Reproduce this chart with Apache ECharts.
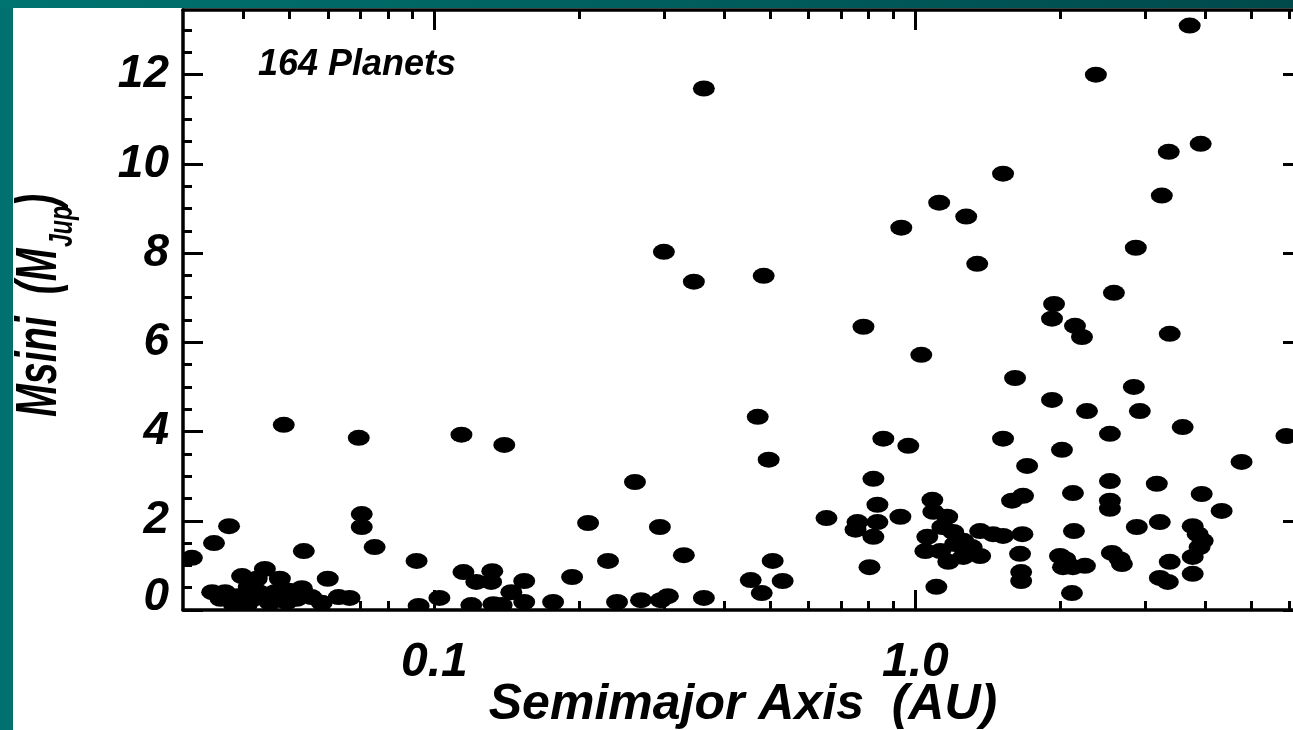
<!DOCTYPE html>
<html>
<head>
<meta charset="utf-8">
<script src="https://cdn.jsdelivr.net/npm/echarts@6/dist/echarts.min.js"></script>
<style>
  html, body { margin: 0; padding: 0; background: #00716e; }
  #chart { width: 1293px; height: 730px; }
</style>
</head>
<body>
<div id="chart"></div>
<script>
// semimajor axis (AU) and minimum mass (M_Jup), one entry per planet
const semimajorAxis = [
  0.0313, 0.0348, 0.0374, 0.0345, 0.0367, 0.0383, 0.0398, 0.0411, 0.0407, 0.0431,
  0.0444, 0.0466, 0.0477, 0.0498, 0.0517, 0.0535, 0.0530, 0.0583, 0.0600, 0.0632,
  0.0666, 0.0486, 0.0696, 0.0706, 0.0706, 0.0751, 0.0918, 0.0927, 0.1024, 0.1138,
  0.1149, 0.1222, 0.1193, 0.1319, 0.1312, 0.1326, 0.1397, 0.1445, 0.1537, 0.1537,
  0.1765, 0.1933, 0.2087, 0.2296, 0.2397, 0.2612, 0.2689, 0.2943, 0.2957, 0.3058,
  0.300, 0.3301, 0.3463, 0.3633, 0.3633, 0.4547, 0.4702, 0.4793, 0.4838, 0.4955,
  0.5051, 0.5298, 0.6535, 0.7801, 0.8181, 0.8340, 0.758, 0.751, 0.834, 0.818,
  0.803, 0.858, 0.931, 0.935, 0.967, 1.029, 1.085, 1.090, 1.165, 1.138,
  1.199, 1.059, 1.258, 1.049, 1.127, 1.171, 1.258, 1.364, 1.364, 1.451,
  1.522, 1.106, 1.121, 1.276, 1.345, 1.522, 1.522, 1.612, 1.589, 1.675,
  1.670, 1.651, 1.66, 1.66, 1.708, 1.924, 1.943, 1.924, 2.018, 2.127,
  2.137, 1.999, 2.028, 2.127, 2.253, 2.117, 2.148, 2.221, 2.275, 2.374,
  2.539, 2.539, 2.539, 2.539, 2.563, 2.689, 2.588, 2.847, 2.874, 2.888,
  2.930, 3.178, 3.224, 3.255, 3.365, 3.381, 3.224, 3.35, 3.381, 3.597,
  3.720, 3.774, 3.865, 3.959, 3.774, 3.774, 3.921, 3.94, 4.335, 4.769,
  5.912, 0.0389, 0.0420, 0.0455, 0.0493, 0.0427, 0.0555, 1.21, 1.31, 0.138,
  2.05, 2.66, 0.0359, 3.90
];
const msini = [
  1.17, 1.50, 1.88, 0.40, 0.40, 0.11, 0.76, 0.52, 0.11, 0.40,
  0.92, 0.40, 0.70, 0.43, 0.25, 1.32, 0.49, 0.16, 0.70, 0.29,
  0.27, 4.15, 3.86, 2.15, 1.86, 1.41, 1.10, 0.09, 0.27, 3.93,
  0.85, 0.63, 0.11, 0.87, 0.63, 0.13, 3.70, 0.40, 0.65, 0.18,
  0.18, 0.74, 1.95, 1.10, 0.18, 2.87, 0.22, 1.86, 0.22, 0.31,
  8.03, 1.23, 7.36, 11.69, 0.27, 0.67, 4.33, 0.38, 7.49, 3.37,
  1.10, 0.65, 2.06, 6.35, 2.94, 2.36, 1.97, 1.80, 1.97, 1.64,
  0.96, 3.84, 2.09, 8.57, 3.68, 5.72, 2.47, 2.20, 2.09, 1.86,
  1.75, 1.64, 1.55, 1.32, 1.32, 1.08, 1.19, 1.21, 1.77, 1.70,
  1.66, 0.52, 9.13, 8.82, 7.76, 9.78, 3.84, 5.20, 2.45, 2.56,
  1.70, 1.26, 0.85, 0.65, 3.23, 4.71, 6.86, 6.53, 3.59, 2.62,
  1.77, 1.21, 0.96, 0.96, 0.99, 0.38, 6.37, 6.12, 4.46, 12.0,
  3.95, 2.89, 2.45, 2.27, 1.28, 1.03, 7.11, 5.00, 8.12, 1.86,
  4.46, 2.83, 1.97, 9.29, 10.27, 6.19, 0.72, 0.63, 1.08, 4.10,
  13.10, 1.88, 1.70, 1.55, 1.19, 0.81, 10.45, 2.60, 2.22, 3.32,
  3.90, 0.31, 0.25, 0.16, 0.18, 0.70, 0.29, 1.48, 1.41, 0.11,
  1.14, 1.14, 0.25, 1.41
];

const xMajorTicks = [0.1, 1];
const xMajorLabels = ['0.1', '1.0'];
const xMinorTicks = [0.04, 0.05, 0.06, 0.07, 0.08, 0.09, 0.2, 0.3, 0.4, 0.5, 0.6, 0.7, 0.8, 0.9, 2, 3, 4, 5, 6];
const yMajorTicks = [0, 2, 4, 6, 8, 10, 12];
const yMinorTicks = [0.5, 1, 1.5, 2.5, 3, 3.5, 4.5, 5, 5.5, 6.5, 7, 7.5, 8.5, 9, 9.5, 10.5, 11, 11.5, 12.5, 13];

const FONT = '"Liberation Sans", Arial, Helvetica, sans-serif';
const chart = echarts.init(document.getElementById('chart'), null, { renderer: 'canvas' });

// the log axis may hand back either the raw value or its log10
function xLabelFor(v) {
  const k = xMajorTicks.findIndex(t => Math.abs(t - v) < 1e-9 || Math.abs(Math.log10(t) - v) < 1e-9);
  return k < 0 ? '' : xMajorLabels[k];
}

function xAxisDef(pos, ticks, len, withLine, withLabels) {
  return {
    type: 'log', logBase: 10, min: 0.03, max: 6.4, position: pos, z: 10,
    axisLine: { show: withLine, onZero: false, lineStyle: { color: '#000', width: 3.5 } },
    axisTick: { show: true, inside: true, length: len, customValues: ticks, lineStyle: { color: '#000', width: 3 } },
    axisLabel: withLabels ? {
      show: true, margin: 29,
      formatter: v => xLabelFor(v),
      fontSize: 48, fontWeight: 'bold', fontStyle: 'italic', fontFamily: FONT, color: '#000'
    } : { show: false },
    splitLine: { show: false }, minorTick: { show: false }, minorSplitLine: { show: false }
  };
}
function yAxisDef(pos, ticks, len, withLine, withLabels) {
  return {
    type: 'value', min: 0, max: 13.45, position: pos, z: 10,
    axisLine: { show: withLine, onZero: false, lineStyle: { color: '#000', width: 3.5 } },
    axisTick: { show: true, inside: true, length: len, customValues: ticks, lineStyle: { color: '#000', width: 3 } },
    axisLabel: withLabels ? {
      show: true, customValues: yMajorTicks, margin: 14,
      formatter: v => (v === 0 ? '{z|0}' : String(v)),
      fontSize: 46, fontWeight: 'bold', fontStyle: 'italic', fontFamily: FONT, color: '#000',
      rich: { z: { fontSize: 46, fontWeight: 'bold', fontStyle: 'italic', fontFamily: FONT, color: '#000', padding: [0, 0, 26, 0] } }
    } : { show: false },
    splitLine: { show: false }, minorTick: { show: false }, minorSplitLine: { show: false }
  };
}

const xAxes = [
  xAxisDef('bottom', xMajorTicks, 20, true, true),
  xAxisDef('bottom', xMinorTicks, 9, false, false),
  xAxisDef('top', xMajorTicks, 20, true, false),
  xAxisDef('top', xMinorTicks, 9, false, false)
];
xAxes[0].name = 'Semimajor Axis  (AU)';
xAxes[0].nameLocation = 'middle';
xAxes[0].nameGap = 70;
xAxes[0].nameMoveOverlap = false;
xAxes[0].nameTextStyle = { fontSize: 50, fontWeight: 'bold', fontStyle: 'italic', fontFamily: FONT, color: '#000' };

const yAxes = [
  yAxisDef('left', yMajorTicks, 20, true, true),
  yAxisDef('left', yMinorTicks, 9, false, false),
  yAxisDef('right', yMajorTicks, 20, true, false),
  yAxisDef('right', yMinorTicks, 9, false, false)
];

// rotated, squeezed y title pieces (reads bottom to top)
function titlePiece(text, x, y, size) {
  return {
    type: 'text', z: 20, x: x, y: y, rotation: Math.PI / 2, scaleX: 0.68,
    style: { text: text, align: 'left', verticalAlign: 'middle', fontSize: size,
      fontWeight: 'bold', fontStyle: 'italic', fontFamily: FONT, fill: '#000' }
  };
}

const option = {
  backgroundColor: '#00716e',
  animation: false,
  grid: { left: 183, top: 10, bottom: 120, right: -10, containLabel: false, outerBoundsMode: 'none' },
  xAxis: xAxes,
  yAxis: yAxes,
  graphic: [
    { type: 'rect', z: -1, shape: { x: 0, y: 0, width: 1293, height: 8 },
      style: { fill: new echarts.graphic.LinearGradient(0, 0, 1, 0, [
        { offset: 0, color: '#007470' }, { offset: 0.5, color: '#005f5e' }, { offset: 1, color: '#00494b' }]) } },
    { type: 'rect', z: 0, shape: { x: 13, y: 8, width: 1280, height: 722 }, style: { fill: '#fff' } },
    // cover dots spilling past the frame
    { type: 'rect', z: 5, shape: { x: 13, y: 611, width: 1280, height: 119 }, style: { fill: '#fff' } },
    { type: 'rect', z: 5, shape: { x: 13, y: 8, width: 169, height: 722 }, style: { fill: '#fff' } },
    { type: 'text', z: 20, left: 258, top: 47,
      style: { text: '164 Planets', fontSize: 36, fontWeight: 'bold', fontStyle: 'italic', fontFamily: FONT, fill: '#000' } },
    titlePiece('Msini  (M', 40, 417, 58),
    titlePiece('Jup', 63, 247, 34),
    titlePiece(')', 40, 207, 58)
  ],
  series: [{
    type: 'scatter', xAxisIndex: 0, yAxisIndex: 0, z: 2,
    symbol: 'circle', symbolSize: [22, 16],
    itemStyle: { color: '#000', opacity: 1 },
    data: semimajorAxis.map((a, i) => [a, msini[i]])
  }]
};
chart.setOption(option);
</script>
</body>
</html>
